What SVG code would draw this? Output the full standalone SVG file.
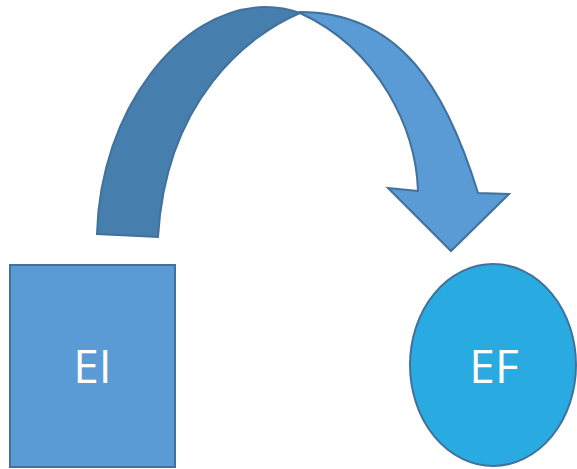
<svg xmlns="http://www.w3.org/2000/svg" width="577" height="469" viewBox="0 0 577 469">
<style>
.edge{stroke:#41719C;stroke-width:2;stroke-linejoin:miter}
.lbl{font-family:"Open Sans","Noto Sans",sans-serif;font-size:46px;fill:#FFFFFF;text-anchor:middle}
</style>
<rect width="577" height="469" fill="#FFFFFF"/>
<g id="connectors">
<path class="edge" fill="#467EAD" d="M97,234 C100,110 180,8 265,7 C280,7 292,10 300,13 C248,35 166,100 158,237 Z"/>
<path class="edge" fill="#5B9BD5" d="M300,12 C400,12 446,89 478,193 L509,194 L451,251 L388,188 L418,191 C416,130 380,50 300,13 Z"/>
</g>
<g id="node-EI">
<rect class="edge" x="10" y="265" width="165" height="202" fill="#5B9BD5"/>
<text class="lbl" x="92.5" y="383">EI</text>
</g>
<g id="node-EF">
<ellipse class="edge" cx="493" cy="365" rx="83" ry="101" fill="#29ABE2"/>
<text class="lbl" x="494" y="383">EF</text>
</g>
</svg>
